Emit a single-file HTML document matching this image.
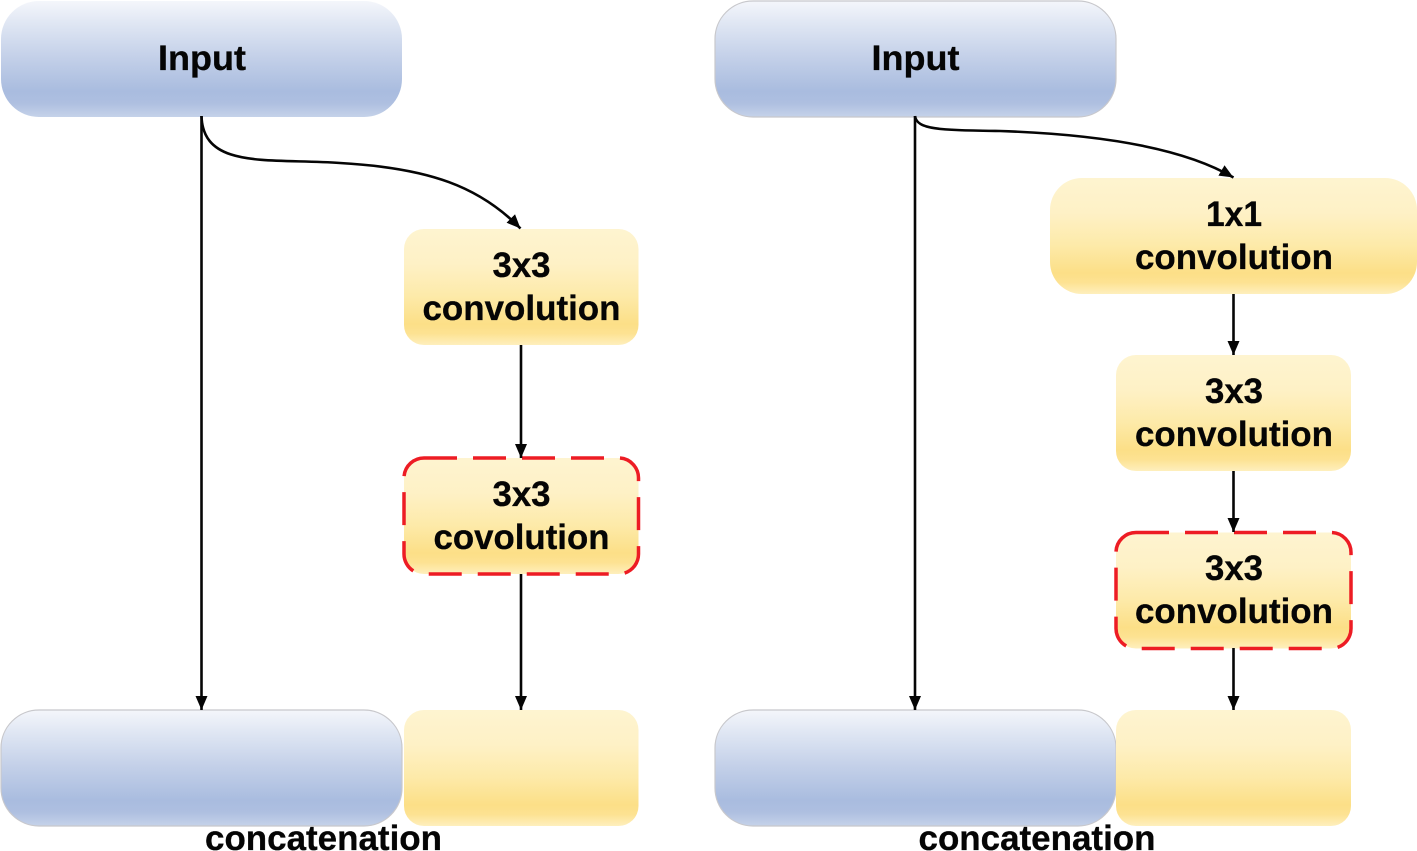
<!DOCTYPE html>
<html>
<head>
<meta charset="utf-8">
<style>
html,body{margin:0;padding:0;background:#fff;width:1417px;height:851px;overflow:hidden}
svg{display:block}
text{font-family:"Liberation Sans",sans-serif;font-weight:bold;font-size:35px;fill:#050505;text-anchor:middle;stroke:#050505;stroke-width:.3px}
</style>
</head>
<body>
<svg width="1417" height="851" viewBox="0 0 1417 851" xmlns="http://www.w3.org/2000/svg">
<defs>
<linearGradient id="b" x1="0" y1="0" x2="0" y2="1">
<stop offset="0" stop-color="#f4f6fb"/>
<stop offset=".2" stop-color="#dfe6f3"/>
<stop offset=".5" stop-color="#c2cfe8"/>
<stop offset=".78" stop-color="#a9bcdf"/>
<stop offset=".88" stop-color="#aebfe0"/>
<stop offset="1" stop-color="#c5d2e9"/>
</linearGradient>
<linearGradient id="y" x1="0" y1="0" x2="0" y2="1">
<stop offset="0" stop-color="#fef4d0"/>
<stop offset=".3" stop-color="#fef1c6"/>
<stop offset=".58" stop-color="#fdeaa9"/>
<stop offset=".82" stop-color="#fcdf87"/>
<stop offset=".9" stop-color="#fde292"/>
<stop offset="1" stop-color="#feefbd"/>
</linearGradient>
<marker id="a" markerUnits="userSpaceOnUse" markerWidth="16" markerHeight="14" refX="14" refY="6.500" orient="auto">
<path d="M0 0.500L14 6.500L0 12.500Z" fill="#050505"/>
</marker>
</defs>

<!-- left -->
<rect x="1" y="1" width="401" height="116" rx="38" fill="url(#b)"/>
<rect x="404" y="229" width="234.500" height="116" rx="20" fill="url(#y)"/>
<rect x="404" y="458" width="234.500" height="116" rx="20" fill="url(#y)"/>
<rect x="404" y="458" width="234.500" height="116" rx="20" fill="none" stroke="#ed1c24" stroke-width="3.500" stroke-dasharray="33 16"/>
<rect x="1" y="710" width="401" height="116" rx="38" fill="url(#b)" stroke="#c8c8cc" stroke-width="1.200"/>
<rect x="404" y="710" width="234.500" height="116" rx="20" fill="url(#y)"/>

<!-- right -->
<rect x="715" y="1" width="401" height="116" rx="38" fill="url(#b)" stroke="#c8c8cc" stroke-width="1.200"/>
<rect x="1050" y="178" width="367" height="116" rx="32" fill="url(#y)"/>
<rect x="1116" y="355" width="235" height="116" rx="20" fill="url(#y)"/>
<rect x="1116" y="532.500" width="235" height="116" rx="20" fill="url(#y)"/>
<rect x="1116" y="532.500" width="235" height="116" rx="20" fill="none" stroke="#ed1c24" stroke-width="3.500" stroke-dasharray="33 16"/>
<rect x="715" y="710" width="401" height="116" rx="38" fill="url(#b)" stroke="#c8c8cc" stroke-width="1.200"/>
<rect x="1116" y="710" width="235" height="116" rx="20" fill="url(#y)"/>

<!-- connectors -->
<g fill="none" stroke="#050505" stroke-width="2.600">
<path d="M201.500 116V710" marker-end="url(#a)"/>
<path d="M201.500 116C203 170 270 158 340 163C430 168 480 187 520.500 228.500" marker-end="url(#a)"/>
<path d="M521 345V458" marker-end="url(#a)"/>
<path d="M521 574V710" marker-end="url(#a)"/>
<path d="M915 116V710" marker-end="url(#a)"/>
<path d="M915 116C917 130 940 130 1000 131C1090 134 1180 146 1233.500 177.500" marker-end="url(#a)"/>
<path d="M1233.500 294V355" marker-end="url(#a)"/>
<path d="M1233.500 471V532" marker-end="url(#a)"/>
<path d="M1233.500 648V710" marker-end="url(#a)"/>
</g>

<!-- labels -->
<text x="202" y="70" textLength="88" lengthAdjust="spacingAndGlyphs">Input</text>
<text x="521.500" y="277" textLength="58" lengthAdjust="spacingAndGlyphs">3x3</text>
<text x="521.500" y="320" textLength="198" lengthAdjust="spacingAndGlyphs">convolution</text>
<text x="521.500" y="506" textLength="58" lengthAdjust="spacingAndGlyphs">3x3</text>
<text x="521.500" y="549" textLength="176" lengthAdjust="spacingAndGlyphs">covolution</text>
<text x="323.500" y="850" textLength="237" lengthAdjust="spacingAndGlyphs">concatenation</text>

<text x="915.500" y="70" textLength="88" lengthAdjust="spacingAndGlyphs">Input</text>
<text x="1234" y="226" textLength="56" lengthAdjust="spacingAndGlyphs">1x1</text>
<text x="1234" y="269" textLength="198" lengthAdjust="spacingAndGlyphs">convolution</text>
<text x="1234" y="403" textLength="58" lengthAdjust="spacingAndGlyphs">3x3</text>
<text x="1234" y="446" textLength="198" lengthAdjust="spacingAndGlyphs">convolution</text>
<text x="1234" y="580" textLength="58" lengthAdjust="spacingAndGlyphs">3x3</text>
<text x="1234" y="623" textLength="198" lengthAdjust="spacingAndGlyphs">convolution</text>
<text x="1037" y="850" textLength="237" lengthAdjust="spacingAndGlyphs">concatenation</text>
</svg>
</body>
</html>
